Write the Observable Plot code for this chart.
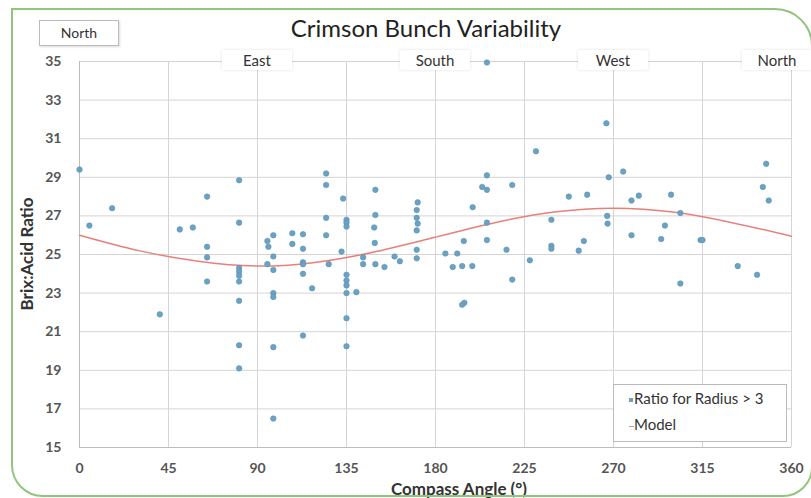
<!DOCTYPE html>
<html>
<head>
<meta charset="utf-8">
<script src="https://cdn.jsdelivr.net/npm/d3@7"></script>
<script src="https://cdn.jsdelivr.net/npm/@observablehq/plot@0.6"></script>
<style>
  body { margin: 0; background: #fff; font-family: Lato, "Open Sans", sans-serif; }
  #wrap { position: relative; width: 811px; height: 498px; overflow: hidden; }
  #frame { position: absolute; left: 11px; top: 8px; width: 798px; height: 485px;
           border: 2px solid #93c47d; border-radius: 0 38px 30px 32px; pointer-events: none; }
  .title { position: absolute; left: 426px; top: 13px; transform: translateX(-50%); white-space: nowrap;
           font-size: 24px; color: #222; }
  .dir { position: absolute; background: #fff; font-size: 15px; color: #333; text-align: center;
         box-shadow: 0 0 3px rgba(0,0,0,0.12); }
  .northbox { position: absolute; left: 39px; top: 20px; width: 78px; height: 24px;
              border: 1px solid #bbb; background: #fff; font-size: 14px; color: #333;
              text-align: center; line-height: 24px; box-shadow: 1px 1px 2px rgba(0,0,0,0.15); }
  .legend { position: absolute; left: 613px; top: 384px; width: 172px; height: 56px;
            border: 1px solid #bbb; background: #fff; font-size: 15px; color: #333; }
  .legend div { position: absolute; white-space: nowrap; }
</style>
</head>
<body>
<div id="wrap"></div>
<script>
const angle = [0,5,16.5,40.6,50.7,57.3,64.5,64.5,64.5,64.5,
  80.7,80.7,80.7,80.7,80.7,80.7,80.7,80.7,80.7,
  95,95,95.5,98,98,98,98,98,98,98,
  107.6,107.6,113,113,113,113,113,113,117.6,
  124.7,124.7,124.7,124.7,126,133.3,135,135,135,132.5,135,135,135,135,140,135,135,
  143.4,143.4,149.6,149.6,149,149.3,149.6,154.2,159.3,162,
  171,170.5,170.5,171,170.5,170.5,170.5,
  185,191,188.7,193.5,198.6,194.3,194.6,193.5,198.8,203.6,206,206,206,206,206,
  215.9,218.8,218.8,227.7,230.8,238.6,238.6,238.6,247.4,252.4,255,256.7,
  266.4,267.6,266.8,267,274.9,279.1,282.8,279.1,294.1,296,299.1,303.8,303.8,
  314,315,332.8,342.6,345.5,347.2,348.5];
const ratio = [29.4,26.5,27.4,21.9,26.3,26.4,28.0,25.4,24.85,23.6,
  28.85,26.65,24.3,24.1,23.9,23.6,22.6,20.3,19.1,
  24.5,25.7,25.4,26.0,24.9,24.2,23.0,22.8,20.2,16.5,
  26.1,25.55,26.05,25.3,24.6,24.5,24.0,20.8,23.25,
  29.2,28.6,26.9,26.0,24.5,27.9,26.8,26.65,26.45,25.15,23.95,23.65,23.4,23.0,23.05,21.7,20.25,
  24.85,24.5,28.35,27.05,26.4,25.6,24.5,24.35,24.9,24.65,
  27.7,27.3,26.9,26.6,26.25,25.25,24.8,
  25.05,25.05,24.35,24.4,24.4,25.7,22.5,22.4,27.45,28.5,28.35,29.1,26.65,25.75,34.95,
  25.25,28.6,23.7,24.7,30.35,26.8,25.45,25.3,28.0,25.2,25.7,28.1,
  31.8,29.0,27.0,26.6,29.3,27.8,28.05,26.0,25.8,26.5,28.1,27.15,23.5,
  25.75,25.75,24.4,23.95,28.5,29.7,27.8];

const modelAngle = [0,30,60,90,120,150,180,210,240,270,300,330,360];
const modelRatio = [26.0,25.2,24.65,24.4,24.6,25.15,25.9,26.65,27.2,27.4,27.2,26.65,25.95];

const xTicks = [0,45,90,135,180,225,270,315,360];
const yTicks = [15,17,19,21,23,25,27,29,31,33,35];
const directions = ["East","South","West","North"];
const directionAngle = [90,180,270,360];

const points = angle.map((a,i) => ({a, r: ratio[i]}));
const model = modelAngle.map((a,i) => ({a, r: modelRatio[i]}));

const plot = Plot.plot({
  width: 811, height: 498,
  marginLeft: 79, marginRight: 20, marginTop: 61, marginBottom: 51,
  style: {fontFamily: "Lato, 'Open Sans', sans-serif", background: "transparent"},
  x: {domain: [0,360], ticks: xTicks, label: null},
  y: {domain: [15,35], ticks: yTicks, label: null},
  marks: [
    Plot.gridX(xTicks, {stroke: "#d4d4d4", strokeOpacity: 1, strokeWidth: 1}),
    Plot.gridY(yTicks, {stroke: "#d4d4d4", strokeOpacity: 1, strokeWidth: 1}),
    Plot.ruleY([15], {stroke: "#bdbdbd"}),
    Plot.ruleX([0], {stroke: "#bdbdbd"}),
    Plot.axisX({ticks: xTicks, tickSize: 0, tickPadding: 16, fontSize: 14, fontWeight: "bold", fill: "#555", label: null}),
    Plot.axisY({ticks: yTicks, tickSize: 0, tickPadding: 18, fontSize: 14, fontWeight: "bold", fill: "#555", label: null}),
    Plot.line(model, {x: "a", y: "r", stroke: "#e8807a", strokeWidth: 1.5, curve: "natural"}),
    Plot.dot(points, {x: "a", y: "r", r: 2.8, fill: "#6aa2c4", stroke: "#5b8fb0", strokeWidth: 0.5})
  ]
});

const wrap = document.getElementById("wrap");
wrap.appendChild(plot);

const xs = plot.scale("x"), ys = plot.scale("y");
const addDiv = (cls, html, style) => {
  const d = document.createElement("div");
  d.className = cls; d.innerHTML = html;
  Object.assign(d.style, style || {});
  wrap.appendChild(d); return d;
};

addDiv("title", "Crimson Bunch Variability");
addDiv("northbox", "North");

const topY = ys.apply(35);
directions.forEach((name, i) => {
  const cx = xs.apply(directionAngle[i]) - (i === 3 ? 14 : 0);
  const w = 70;
  addDiv("dir", name, {left: (cx - w/2) + "px", top: (topY - 11) + "px", width: w + "px", height: "20px", lineHeight: "20px"});
});

// axis titles
const mid = (ys.apply(15) + ys.apply(35)) / 2;
addDiv("", "Brix:Acid Ratio", {position: "absolute", left: "26px", top: mid + "px",
  transform: "translate(-50%,-50%) rotate(-90deg)", fontSize: "17px", fontWeight: "bold",
  color: "#333", whiteSpace: "nowrap"});
addDiv("", "Compass Angle (°)", {position: "absolute", left: "459px", top: "488px",
  transform: "translate(-50%,-50%)", fontSize: "17px", fontWeight: "bold", color: "#333", whiteSpace: "nowrap"});

const lg = addDiv("legend", "");
lg.innerHTML = '<div style="top:4px;left:15px"><span style="display:inline-block;width:4px;height:4px;background:#6aa2c4;vertical-align:middle;margin-right:1px"></span>Ratio for Radius &gt; 3</div>' +
  '<div style="top:30px;left:15px"><span style="display:inline-block;width:5px;height:1px;background:#c99;vertical-align:middle"></span>Model</div>';

addDiv("", "", {}).id = "frame";
</script>
</body>
</html>
